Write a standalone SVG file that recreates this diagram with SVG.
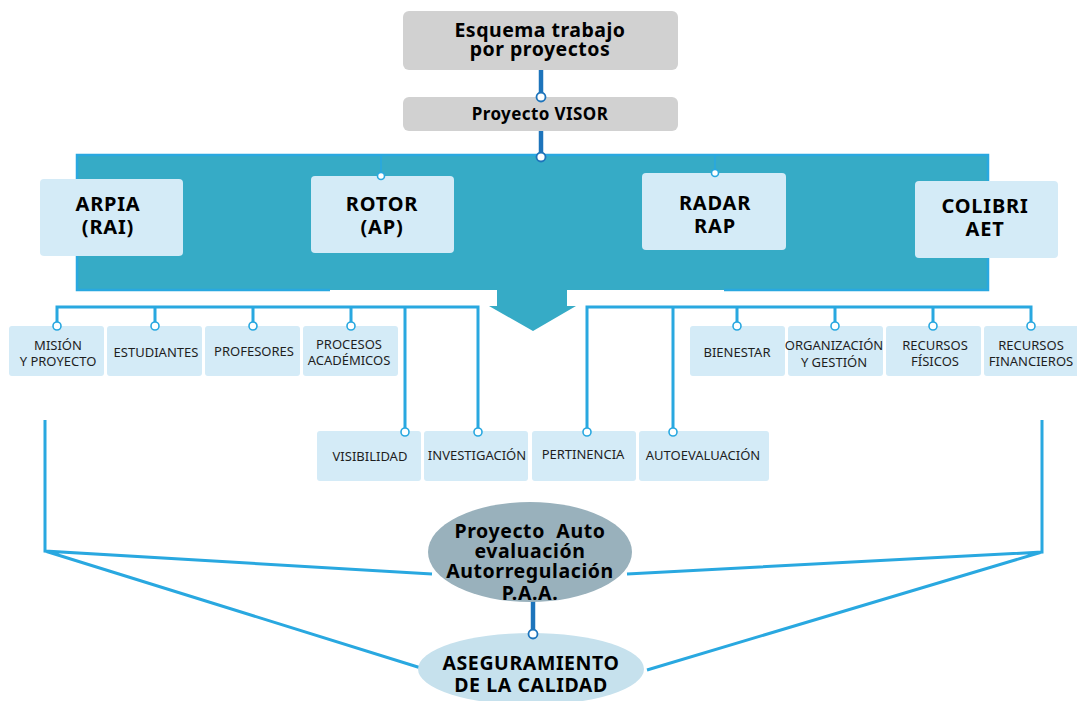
<svg xmlns="http://www.w3.org/2000/svg" width="1077" height="701" viewBox="0 0 1077 701">
<style>
.gray{fill:#d1d1d1}
.lb{fill:#d4ebf7}
.bt{font-family:"Noto Sans","Open Sans",sans-serif;font-weight:bold;fill:#000;text-anchor:middle}
.t19{font-size:19.5px;letter-spacing:0.5px}
.tb{font-size:20px;letter-spacing:0.8px}
.te{font-size:19.5px;letter-spacing:0.6px}
.t16{font-size:17px;letter-spacing:0.4px}
.sm{font-family:"Noto Sans","Open Sans",sans-serif;font-size:13px;fill:#1e1e1e;text-anchor:middle}
.bus{stroke:#29a8e0;stroke-width:3;fill:none}
.dk{stroke:#1d74bb;stroke-width:4.5;fill:none}
.dot{fill:#fff;stroke:#29a8e0;stroke-width:1.6}
.dkdot{fill:#fff;stroke:#1d74bb;stroke-width:1.8}
</style>
<rect width="1077" height="701" fill="#fff"/>
<g id="connectors">
  <line class="dk" x1="541" y1="70" x2="541" y2="96"/>
  <line class="dk" x1="541" y1="131" x2="541" y2="156"/>
  <line class="dk" x1="533" y1="601" x2="533" y2="633"/>
  <path class="bus" d="M57,326 V307 H478 V432 M155,307 V326 M253,307 V326 M351,307 V326 M405,307 V432"/>
  <path class="bus" d="M587,432 V307 H1031 V326 M673,307 V432 M737,307 V326 M835,307 V326 M933,307 V326"/>
  <path class="bus" d="M45,420 V551 L432,574 M45,551 L421,668"/>
  <path class="bus" d="M1042,420 V552 L627,574 M1042,552 L647,670"/>
</g>
<g id="frame">
  <polygon fill="#36abc6" points="77,155 988,155 988,290 567,290 567,306 576,306 533,331 489,306 497,306 497,290 77,290"/>
  <path d="M330,290 H77 V155 H988 V290 H724" fill="none" stroke="#29a8e0" stroke-width="2.5"/>
  <line x1="381" y1="155" x2="381" y2="176" stroke="#29a8e0" stroke-width="1.6"/>
  <line x1="715" y1="155" x2="715" y2="173" stroke="#29a8e0" stroke-width="1.6"/>
</g>
<g id="n-esquema">
  <rect class="gray" x="403" y="11" width="275" height="59" rx="6"/>
  <text class="bt t19" x="540" y="37">Esquema trabajo</text>
  <text class="bt t19" x="540" y="56">por proyectos</text>
</g>
<g id="n-visor">
  <rect class="gray" x="403" y="97" width="275" height="34" rx="6"/>
  <text class="bt t16" x="540" y="120">Proyecto VISOR</text>
</g>
<g id="n-arpia">
  <rect class="lb" x="40" y="179" width="143" height="77" rx="4"/>
  <text class="bt tb" x="108" y="211">ARPIA</text>
  <text class="bt tb" x="108" y="234">(RAI)</text>
</g>
<g id="n-rotor">
  <rect class="lb" x="311" y="176" width="143" height="77" rx="4"/>
  <text class="bt tb" x="382" y="211">ROTOR</text>
  <text class="bt tb" x="382" y="234">(AP)</text>
</g>
<g id="n-radar">
  <rect class="lb" x="642" y="173" width="144" height="77" rx="4"/>
  <text class="bt tb" x="715" y="210">RADAR</text>
  <text class="bt tb" x="715" y="233">RAP</text>
</g>
<g id="n-colibri">
  <rect class="lb" x="915" y="181" width="143" height="77" rx="4"/>
  <text class="bt tb" x="985" y="213">COLIBRI</text>
  <text class="bt tb" x="985" y="236">AET</text>
</g>
<g id="n-mision">
  <rect class="lb" x="9" y="326" width="95" height="50" rx="3"/>
  <text class="sm" x="58" y="350">MISIÓN</text>
  <text class="sm" x="58" y="366">Y PROYECTO</text>
</g>
<g id="n-estudiantes">
  <rect class="lb" x="107" y="326" width="95" height="50" rx="3"/>
  <text class="sm" x="156" y="357">ESTUDIANTES</text>
</g>
<g id="n-profesores">
  <rect class="lb" x="205" y="326" width="95" height="50" rx="3"/>
  <text class="sm" x="254" y="356">PROFESORES</text>
</g>
<g id="n-procesos">
  <rect class="lb" x="303" y="326" width="95" height="50" rx="3"/>
  <text class="sm" x="349" y="349">PROCESOS</text>
  <text class="sm" x="349" y="365">ACADÉMICOS</text>
</g>
<g id="n-bienestar">
  <rect class="lb" x="690" y="326" width="95" height="50" rx="3"/>
  <text class="sm" x="737" y="357">BIENESTAR</text>
</g>
<g id="n-organizacion">
  <rect class="lb" x="788" y="326" width="95" height="50" rx="3"/>
  <text class="sm" x="834" y="350">ORGANIZACIÓN</text>
  <text class="sm" x="834" y="367">Y GESTIÓN</text>
</g>
<g id="n-fisicos">
  <rect class="lb" x="886" y="326" width="95" height="50" rx="3"/>
  <text class="sm" x="935" y="350">RECURSOS</text>
  <text class="sm" x="935" y="366">FÍSICOS</text>
</g>
<g id="n-financieros">
  <rect class="lb" x="984" y="326" width="95" height="50" rx="3"/>
  <text class="sm" x="1031" y="350">RECURSOS</text>
  <text class="sm" x="1031" y="366">FINANCIEROS</text>
</g>
<g id="n-visibilidad">
  <rect class="lb" x="317" y="431" width="104" height="50" rx="3"/>
  <text class="sm" x="370" y="461">VISIBILIDAD</text>
</g>
<g id="n-investigacion">
  <rect class="lb" x="424" y="431" width="104" height="50" rx="3"/>
  <text class="sm" x="477" y="460">INVESTIGACIÓN</text>
</g>
<g id="n-pertinencia">
  <rect class="lb" x="532" y="431" width="104" height="50" rx="3"/>
  <text class="sm" x="583" y="459">PERTINENCIA</text>
</g>
<g id="n-autoevaluacion">
  <rect class="lb" x="639" y="431" width="130" height="50" rx="3"/>
  <text class="sm" x="703" y="460">AUTOEVALUACIÓN</text>
</g>
<g id="n-paa">
  <ellipse cx="530" cy="552" rx="102" ry="50" fill="#99b1bc"/>
  <text class="bt te" x="530" y="538" style="white-space:pre">Proyecto  Auto</text>
  <text class="bt te" x="530" y="558">evaluación</text>
  <text class="bt te" x="530" y="578">Autorregulación</text>
  <text class="bt te" x="530" y="600">P.A.A.</text>
</g>
<g id="n-aseguramiento">
  <ellipse cx="531" cy="669" rx="113" ry="36" fill="#c6e1ed"/>
  <text class="bt te" x="531" y="670">ASEGURAMIENTO</text>
  <text class="bt te" x="531" y="692">DE LA CALIDAD</text>
</g>
<g id="dots">
  <circle class="dkdot" cx="541" cy="97" r="4.5"/>
  <circle class="dkdot" cx="541" cy="157" r="4.5"/>
  <circle class="dkdot" cx="533" cy="634" r="4.5"/>
  <circle class="dot" cx="381" cy="176" r="3.5"/>
  <circle class="dot" cx="715" cy="173" r="3.5"/>
  <circle class="dot" cx="57" cy="326" r="4"/>
  <circle class="dot" cx="155" cy="326" r="4"/>
  <circle class="dot" cx="253" cy="326" r="4"/>
  <circle class="dot" cx="351" cy="326" r="4"/>
  <circle class="dot" cx="737" cy="326" r="4"/>
  <circle class="dot" cx="835" cy="326" r="4"/>
  <circle class="dot" cx="933" cy="326" r="4"/>
  <circle class="dot" cx="1031" cy="326" r="4"/>
  <circle class="dot" cx="405" cy="432" r="4"/>
  <circle class="dot" cx="478" cy="432" r="4"/>
  <circle class="dot" cx="587" cy="432" r="4"/>
  <circle class="dot" cx="673" cy="432" r="4"/>
</g>
</svg>
